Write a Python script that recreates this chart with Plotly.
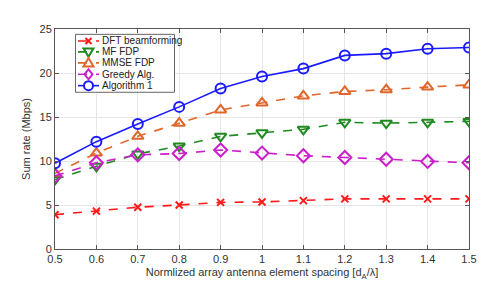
import plotly.graph_objects as go

spacing = [0.5, 0.6, 0.7, 0.8, 0.9, 1.0, 1.1, 1.2, 1.3, 1.4, 1.5]
dft = [3.9, 4.3, 4.75, 5.0, 5.3, 5.35, 5.5, 5.7, 5.7, 5.7, 5.7]
mf = [7.9, 9.4, 10.8, 11.7, 12.8, 13.2, 13.6, 14.4, 14.3, 14.4, 14.5]
mmse = [8.6, 10.9, 12.8, 14.3, 15.8, 16.6, 17.4, 17.9, 18.1, 18.4, 18.65]
greedy = [8.3, 9.8, 10.7, 10.85, 11.25, 10.9, 10.6, 10.4, 10.2, 9.95, 9.8]
alg1 = [9.75, 12.2, 14.2, 16.15, 18.25, 19.6, 20.5, 22.0, 22.2, 22.75, 22.9]

series = [
    ("DFT beamforming", dft, "#ff1a1a", "x-thin-open", "dash", 7),
    ("MF FDP", mf, "#1f8a1f", "triangle-down-open", "dash", 10),
    ("MMSE FDP", mmse, "#e0662a", "triangle-up-open", "dash", 10),
    ("Greedy Alg.", greedy, "#cc1fcc", "diamond-open", "dash", 10),
    ("Algorithm 1", alg1, "#1a1aff", "circle-open", "solid", 10),
]

# legend sample glyph paths (pixel offsets)
glyphs = {
    "x-thin-open": "M -3,-3 L 3,3 M -3,3 L 3,-3",
    "triangle-down-open": "M -5,3.5 L 5,3.5 L 0,-5 Z",
    "triangle-up-open": "M -5,-3.5 L 5,-3.5 L 0,5 Z",
    "diamond-open": "M 0,-5 L 4,0 L 0,5 L -4,0 Z",
}

fig = go.Figure()
for name, ys, color, sym, dash, ms in series:
    fig.add_trace(go.Scatter(
        x=spacing, y=ys, name=name, mode="lines+markers",
        line=dict(color=color, width=1.6, dash=dash),
        marker=dict(symbol=sym, size=ms, color=color, line=dict(color=color, width=2)),
        showlegend=False,
    ))

# custom compact legend (MATLAB style)
L, R, T, B = 47, 461, 21, 247
px = lambda x: (x - L) / (R - L)
py = lambda y: (B - y) / (B - T)
shapes = [dict(type="rect", xref="paper", yref="paper",
               x0=px(67.5), x1=px(166.5), y0=py(86), y1=py(26.5),
               line=dict(color="#666666", width=1), fillcolor="white", layer="above")]
annotations = []
rows = [33.3, 44.5, 55.8, 67.5, 79.2]
for (name, ys, color, sym, dash, ms), ry in zip(series, rows):
    shapes.append(dict(type="line", xref="paper", yref="paper",
                       x0=px(70), x1=px(91), y0=py(ry), y1=py(ry),
                       line=dict(color=color, width=1.6, dash=dash), layer="above"))
    if sym == "circle-open":
        shapes.append(dict(type="circle", xref="paper", yref="paper",
                           xsizemode="pixel", ysizemode="pixel",
                           xanchor=px(80.5), yanchor=py(ry),
                           x0=-4.5, x1=4.5, y0=-4.5, y1=4.5,
                           fillcolor="white",
                           line=dict(color=color, width=2), layer="above"))
    else:
        shapes.append(dict(type="path", xref="paper", yref="paper",
                           xsizemode="pixel", ysizemode="pixel",
                           xanchor=px(80.5), yanchor=py(ry),
                           path=glyphs[sym], line=dict(color=color, width=2), layer="above"))
    annotations.append(dict(xref="paper", yref="paper", x=px(92), y=py(ry),
                            xanchor="left", yanchor="middle", showarrow=False,
                            text=name, font=dict(size=10, color="#222222")))

axis_common = dict(
    showline=True, linecolor="#555555", linewidth=1, mirror="ticks",
    ticks="inside", ticklen=4, tickcolor="#555555",
    showgrid=True, gridcolor="#e6e6e6", gridwidth=1, zeroline=False,
    tickfont=dict(family="Liberation Sans, Arial", size=11, color="#333333"),
)

fig.update_layout(
    width=491, height=281,
    margin=dict(l=L, r=491 - R, t=T, b=281 - B),
    paper_bgcolor="white", plot_bgcolor="white",
    font=dict(family="Liberation Sans, Arial", size=11, color="#333333"),
    xaxis=dict(range=[0.5, 1.5], tickvals=spacing,
               ticktext=["0.5", "0.6", "0.7", "0.8", "0.9", "1", "1.1", "1.2", "1.3", "1.4", "1.5"],
               title=dict(text="Normlized array antenna element spacing [d<sub>A</sub>/λ]",
                          font=dict(size=11, color="#333333"), standoff=4),
               **axis_common),
    yaxis=dict(range=[0, 25], dtick=5,
               title=dict(text="Sum rate (Mbps)", font=dict(size=11, color="#333333"), standoff=6),
               **axis_common),
    shapes=shapes,
    annotations=annotations,
    showlegend=False,
)

fig.write_html("out.html")
